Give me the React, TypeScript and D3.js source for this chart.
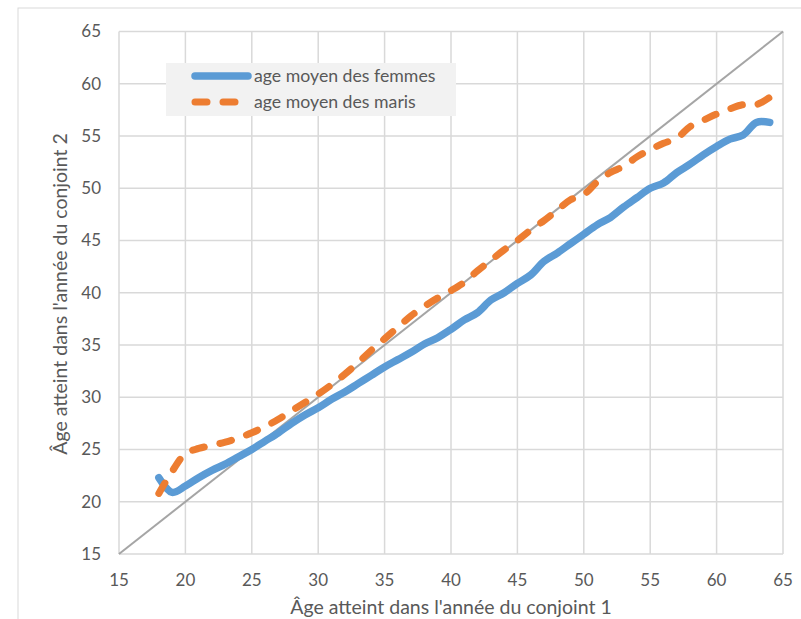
import React from "react";
import * as d3 from "d3";

const ages = [18,19,20,21,22,23,24,25,26,27,28,29,30,31,32,33,34,35,36,37,38,39,40,41,42,43,44,45,46,47,48,49,50,51,52,53,54,55,56,57,58,59,60,61,62,63,64];
const femmes = [22.3,20.9,21.5,22.3,23.0,23.6,24.3,25.0,25.8,26.6,27.5,28.3,29.0,29.8,30.5,31.3,32.1,32.9,33.6,34.3,35.1,35.7,36.5,37.4,38.1,39.3,40.0,40.9,41.7,43.0,43.8,44.7,45.6,46.5,47.2,48.2,49.1,50.0,50.5,51.5,52.3,53.2,54.0,54.7,55.1,56.3,56.3];
const maris = [20.8,22.9,24.6,25.1,25.4,25.7,26.1,26.6,27.2,27.9,28.7,29.5,30.3,31.2,32.2,33.3,34.5,35.6,36.7,37.8,38.7,39.5,40.2,41.0,42.1,43.1,44.1,45.0,46.0,46.9,47.9,48.9,49.4,50.6,51.5,52.1,53.0,53.7,54.3,54.8,55.9,56.5,57.1,57.6,58.0,58.0,58.7];
const ticks = [15,20,25,30,35,40,45,50,55,60,65];
const seriesNames = ["age moyen des femmes", "age moyen des maris"];
const xTitle = "Âge atteint dans l'année du conjoint 1";
const yTitle = "Âge atteint dans l'année du conjoint 2";

const W = 801, H = 619;
const FONT = "Lato, 'Open Sans', sans-serif";
const TXT = "#595959";

export default function App() {
  const x = d3.scaleLinear().domain([15, 65]).range([119, 783]);
  const y = d3.scaleLinear().domain([15, 65]).range([554, 31.5]);
  const line = d3.line<[number, number]>().x(d => x(d[0])).y(d => y(d[1])).curve(d3.curveCatmullRom.alpha(0.5));
  const fPts = ages.map((a, i) => [a, femmes[i]] as [number, number]);
  const mPts = ages.map((a, i) => [a, maris[i]] as [number, number]);
  return (
    <svg width={W} height={H} style={{ position: "absolute", left: 0, top: 0, background: "#fff" }}>
      <rect x={18} y={8} width={900} height={900} fill="#fff" stroke="#d9d9d9" strokeWidth={1} />
      {ticks.map(t => (
        <line key={"gx" + t} x1={x(t)} x2={x(t)} y1={y(15)} y2={y(65)} stroke="#d9d9d9" strokeWidth={1.5} />
      ))}
      {ticks.map(t => (
        <line key={"gy" + t} x1={x(15)} x2={x(65)} y1={y(t)} y2={y(t)} stroke="#d9d9d9" strokeWidth={1.5} />
      ))}
      {ticks.map(t => (
        <text key={"ty" + t} x={101} y={y(t)} dy="0.35em" textAnchor="end" fontFamily={FONT} fontSize={17} fill={TXT}>{t}</text>
      ))}
      {ticks.map(t => (
        <text key={"tx" + t} x={x(t)} y={586} textAnchor="middle" fontFamily={FONT} fontSize={17} fill={TXT}>{t}</text>
      ))}
      <line x1={x(15)} y1={y(15)} x2={x(65)} y2={y(65)} stroke="#a5a5a5" strokeWidth={2} />
      <path d={line(fPts) || ""} fill="none" stroke="#5b9bd5" strokeWidth={7.5} strokeLinecap="round" strokeLinejoin="round" />
      <path d={line(mPts) || ""} fill="none" stroke="#ed7d31" strokeWidth={7} strokeLinecap="round" strokeLinejoin="round" strokeDasharray="12,16" />
      <rect x={166} y={63} width={290} height={53} fill="#f2f2f2" />
      <line x1={195} x2={248} y1={76} y2={76} stroke="#5b9bd5" strokeWidth={7.5} strokeLinecap="round" />
      <line x1={195} x2={242} y1={102} y2={102} stroke="#ed7d31" strokeWidth={7} strokeLinecap="round" strokeDasharray="12,16" />
      <text x={254} y={76} dy="0.35em" fontFamily={FONT} fontSize={17.7} fill={TXT}>{seriesNames[0]}</text>
      <text x={254} y={102} dy="0.35em" fontFamily={FONT} fontSize={17.7} fill={TXT}>{seriesNames[1]}</text>
      <text x={451} y={614} textAnchor="middle" fontFamily={FONT} fontSize={19.5} fill={TXT}>{xTitle}</text>
      <text transform="translate(67,294) rotate(-90)" textAnchor="middle" fontFamily={FONT} fontSize={19.5} fill={TXT}>{yTitle}</text>
    </svg>
  );
}
